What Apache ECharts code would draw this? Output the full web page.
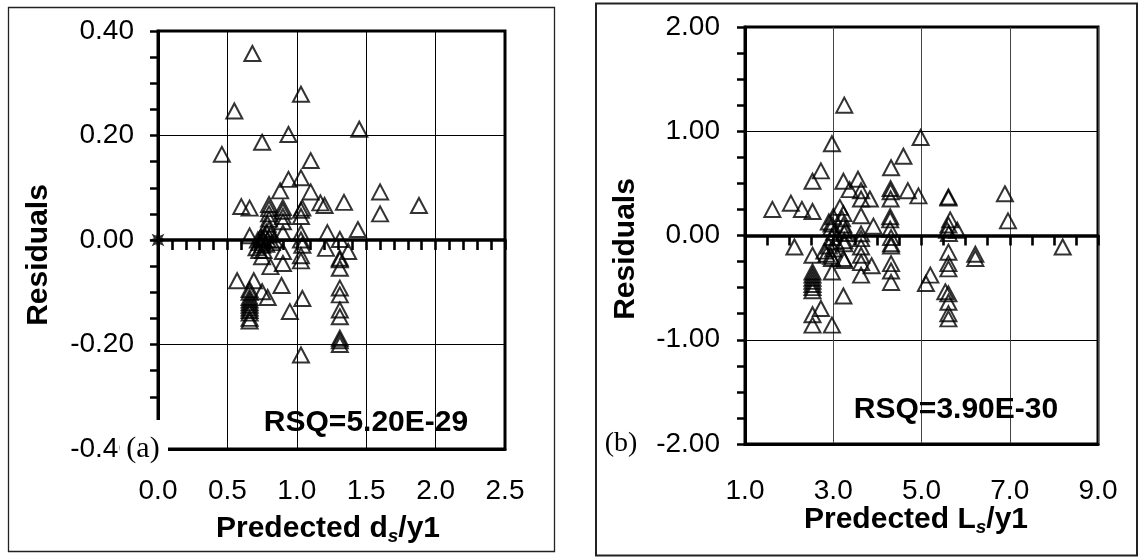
<!DOCTYPE html>
<html><head><meta charset="utf-8">
<script src="https://cdn.jsdelivr.net/npm/echarts@6/dist/echarts.min.js"></script>
<style>html,body{margin:0;padding:0;background:#fff}#c{width:1143px;height:560px}</style>
</head><body><div id="c"></div>
<script>
// ---- Panel (a): predicted ds/y1 vs residuals ----
const panelA_points = [
 [0.68,0.357],[1.03,0.279],[0.55,0.247],[1.45,0.212],[0.94,0.202],[0.75,0.187],[0.46,0.164],[1.10,0.152],
 [0.94,0.116],[1.03,0.119],[0.88,0.094],[1.10,0.092],[1.60,0.092],[1.60,0.050],[1.88,0.066],
 [0.60,0.064],[0.66,0.061],[0.80,0.068],[0.90,0.062],[1.04,0.061],[1.17,0.071],[1.20,0.066],[1.34,0.072],
 [0.80,0.060],[0.80,0.050],[0.80,0.040],[0.79,0.030],[0.80,0.020],[0.81,0.010],
 [0.90,0.055],[0.90,0.045],[0.90,0.035],
 [1.03,0.057],[1.03,0.045],[1.03,0.013],[1.03,0.000],[1.04,-0.010],
 [1.44,0.020],[1.22,0.014],[1.31,0.001],[0.66,0.008],[0.90,0.013],
 [0.72,0.000],[0.73,-0.005],[0.74,0.005],[0.75,-0.010],[0.76,0.000],[0.77,0.008],[0.78,0.015],[0.79,0.000],
 [0.82,-0.005],[0.84,0.000],[0.71,-0.015],[0.73,-0.020],[0.76,-0.020],[0.75,0.003],[0.78,-0.008],
 [1.21,-0.016],[1.37,-0.022],[1.31,-0.035],[1.03,-0.030],[1.03,-0.040],[0.90,-0.022],[0.90,-0.045],
 [0.75,-0.032],[0.81,-0.051],[1.31,-0.038],[1.31,-0.054],
 [0.57,-0.078],[0.69,-0.078],[0.89,-0.087],[0.75,-0.099],[0.79,-0.110],[1.04,-0.112],[0.95,-0.137],
 [0.66,-0.095],[0.66,-0.100],[0.66,-0.110],[0.66,-0.115],[0.66,-0.120],[0.66,-0.125],[0.66,-0.130],
 [0.66,-0.135],[0.66,-0.140],[0.66,-0.150],[0.66,-0.155],
 [1.31,-0.092],[1.31,-0.105],[1.31,-0.134],[1.31,-0.147],[1.31,-0.188],[1.31,-0.193],[1.31,-0.200],
 [1.03,-0.220]
];
const panelA_origin = [[0,0]];
const panelA_rsq = 'RSQ=5.20E-29';

// ---- Panel (b): predicted Ls/y1 vs residuals ----
const panelB_points = [
 [3.25,1.25],[2.97,0.88],[4.98,0.94],[4.59,0.76],[4.31,0.65],[2.72,0.62],[2.53,0.52],[3.23,0.52],
 [3.56,0.54],[3.37,0.44],[3.63,0.43],[3.83,0.35],[3.63,0.35],[4.30,0.45],[4.30,0.42],[4.30,0.35],
 [4.69,0.43],[4.93,0.38],[1.62,0.25],[2.04,0.31],[2.29,0.25],[2.53,0.23],[3.15,0.27],[3.23,0.21],
 [3.63,0.19],[3.00,0.18],[2.96,0.11],[2.95,0.07],[3.27,0.05],[3.91,0.09],[4.29,0.18],[4.29,0.15],
 [4.29,0.06],[3.63,0.016],[3.20,0.16],[3.23,0.10],[3.25,0.02],[2.90,0.13],[3.02,0.03],
 [6.89,0.40],[6.96,0.14],[5.61,0.37],[5.61,0.36],[5.65,0.15],[5.61,0.10],[5.58,0.05],[5.81,0.05],[5.62,0.02],
 [8.20,-0.11],[5.61,-0.16],[6.22,-0.18],[6.22,-0.22],[5.61,-0.27],[5.61,-0.32],[5.20,-0.38],[5.10,-0.46],
 [5.54,-0.54],[5.61,-0.56],[5.61,-0.64],[5.61,-0.75],[5.61,-0.80],
 [2.12,-0.11],[2.53,-0.19],[2.85,-0.18],[2.95,-0.20],[2.97,-0.22],[3.23,-0.22],[3.25,-0.24],[2.97,-0.35],
 [3.63,-0.11],[3.63,-0.19],[3.63,-0.26],[3.87,-0.29],[3.63,-0.38],
 [4.31,-0.08],[4.31,-0.10],[4.31,-0.27],[4.31,-0.34],[4.31,-0.45],
 [2.53,-0.35],[2.53,-0.38],[2.53,-0.41],[2.53,-0.44],[2.53,-0.47],[2.53,-0.50],[2.53,-0.53],
 [3.23,-0.58],[2.72,-0.70],[2.53,-0.76],[2.53,-0.86],[2.97,-0.86],
 [2.97,-0.02],[3.25,-0.05],[3.63,-0.03],[4.31,-0.02],[2.90,-0.10],[3.05,-0.06],[3.25,-0.08],[2.80,-0.15],[3.00,-0.13]
];
const panelB_rsq = 'RSQ=3.90E-30';

const FONT = '"Liberation Sans", Arial, Helvetica, sans-serif';
const SERIF = '"Liberation Serif", "Times New Roman", serif';

function starPath(n, ro, ri) {
  let d = '';
  for (let i = 0; i < 2 * n; i++) {
    const r = i % 2 ? ri : ro;
    const a = Math.PI * i / n - Math.PI / 2;
    d += (i ? 'L' : 'M') + (r * Math.cos(a)).toFixed(2) + ',' + (r * Math.sin(a)).toFixed(2) + ' ';
  }
  return 'path://' + d + 'Z';
}

function mainX(gi, min, max, interval, margin, gridColor) {
  return { gridIndex: gi, type: 'value', position: 'bottom', min, max, interval,
    axisLine: { onZero: false, lineStyle: { color: '#000', width: 3 } },
    axisTick: { show: false },
    splitLine: { show: true, lineStyle: { color: gridColor, width: 1 } },
    axisLabel: { margin, fontSize: 28, color: '#000', fontFamily: FONT, formatter: v => v.toFixed(1) } };
}
// axis drawn along the zero residual line (bottom edge of an upper half-grid)
function zeroX(gi, min, max, interval) {
  return { gridIndex: gi, type: 'value', position: 'bottom', min, max, interval,
    axisLine: { show: true, onZero: false, lineStyle: { color: '#000', width: 3.5 } },
    axisTick: { show: true, inside: false, length: 10, lineStyle: { color: '#000', width: 2.6 } },
    axisLabel: { show: false }, splitLine: { show: false } };
}
function yAx(gi, min, max, interval, margin, gridColor) {
  return { gridIndex: gi, type: 'value', min, max, interval,
    axisLine: { onZero: false, lineStyle: { color: '#000', width: 3 } },
    axisTick: { show: true, length: 8, lineStyle: { color: '#000', width: 2.5 } },
    minorTick: { show: true, splitNumber: 4, length: 8, lineStyle: { color: '#000', width: 2.5 } },
    splitLine: { show: true, lineStyle: { color: gridColor, width: 1 } },
    axisLabel: { margin, fontSize: 28, color: '#000', fontFamily: FONT, formatter: v => v.toFixed(2) } };
}
function hiddenY(gi, min, max) {
  return { gridIndex: gi, type: 'value', min, max, show: false,
    axisLine: { show: false, onZero: false }, splitLine: { show: false } };
}
const tri = { type: 'scatter', symbol: 'triangle', symbolSize: [16, 15], silent: true, clip: false, z: 3,
  itemStyle: { color: 'rgba(0,0,0,0)', borderColor: '#000', borderWidth: 2 } };

function txt(x, y, text, font, extra) {
  return Object.assign({ type: 'text', x, y, z: 100,
    style: { text, font, fill: '#000', align: 'center', verticalAlign: 'middle' } }, extra || {});
}
function titleRich(x, y, a, sub, b) {
  return { type: 'text', x, y, z: 100, style: {
    text: '{n|' + a + '}{s|' + sub + '}{n|' + b + '}', align: 'center', verticalAlign: 'middle',
    rich: {
      n: { fontSize: 30, fontWeight: 'bold', fontFamily: FONT, fill: '#000', lineHeight: 34 },
      s: { fontSize: 19, fontWeight: 'bold', fontStyle: 'italic', fontFamily: FONT, fill: '#000', lineHeight: 34, verticalAlign: 'bottom' }
    } } };
}

const chart = echarts.init(document.getElementById('c'));
chart.setOption({
  animation: false,
  backgroundColor: '#fff',
  grid: [
    { left: 158, top: 31, width: 347, height: 418, show: true, borderColor: '#000', borderWidth: 3, outerBoundsMode: 'none' },
    { left: 745, top: 27, width: 353, height: 417, show: true, borderColor: '#000', borderWidth: 3, outerBoundsMode: 'none' },
    { left: 158, top: 31, width: 347, height: 209, show: false, outerBoundsMode: 'none' },
    { left: 745, top: 27, width: 353, height: 208.5, show: false, outerBoundsMode: 'none' }
  ],
  xAxis: [
    mainX(0, 0, 2.5, 0.5, 28, '#000'),
    mainX(1, 1, 9, 2, 33, '#444'),
    zeroX(2, 0, 2.5, 0.1),
    zeroX(3, 1, 9, 0.5)
  ],
  yAxis: [
    yAx(0, -0.4, 0.4, 0.2, 24, '#000'),
    yAx(1, -2, 2, 1, 25, '#000'),
    hiddenY(2, 0, 0.4),
    hiddenY(3, 0, 2)
  ],
  series: [
    Object.assign({}, tri, { xAxisIndex: 0, yAxisIndex: 0, data: panelA_points }),
    { type: 'scatter', xAxisIndex: 0, yAxisIndex: 0, data: panelA_origin, symbol: starPath(8, 9, 4.5),
      symbolSize: 18, silent: true, clip: false, z: 5, itemStyle: { color: '#000' } },
    Object.assign({}, tri, { xAxisIndex: 1, yAxisIndex: 1, data: panelB_points })
  ],
  graphic: [
    { type: 'rect', z: 90, shape: { x: 8.5, y: 7.5, width: 546, height: 544 }, style: { fill: 'none', stroke: '#222', lineWidth: 1.3 } },
    { type: 'rect', z: 90, shape: { x: 596, y: 3.5, width: 541, height: 552 }, style: { fill: 'none', stroke: '#222', lineWidth: 2 } },
    { type: 'rect', z: 95, shape: { x: 120, y: 420, width: 48, height: 42 }, style: { fill: '#fff', stroke: 'none' } },
    txt(143, 449, '(a)', '30px ' + SERIF),
    txt(621, 444, '(b)', '28px ' + SERIF),
    txt(39, 255, 'Residuals', 'bold 30px ' + FONT, { rotation: Math.PI / 2 }),
    txt(626, 249, 'Residuals', 'bold 30px ' + FONT, { rotation: Math.PI / 2 }),
    txt(366, 423, panelA_rsq, 'bold 30px ' + FONT),
    txt(956, 410, panelB_rsq, 'bold 30px ' + FONT),
    titleRich(328, 529, 'Predected d', 's', '/y1'),
    titleRich(916, 520, 'Predected L', 's', '/y1')
  ]
});
</script></body></html>
